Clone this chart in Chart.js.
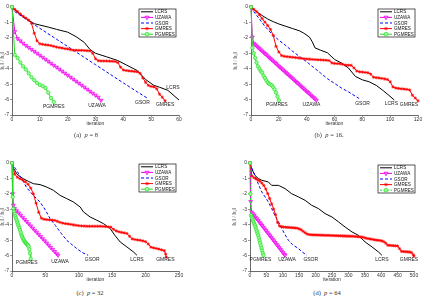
<!DOCTYPE html>
<html><head><meta charset="utf-8">
<script src="https://cdn.jsdelivr.net/npm/chart.js@4.4.0/dist/chart.umd.min.js"></script>
<style>
html,body{margin:0;padding:0;background:#fff;width:423px;height:296px;overflow:hidden;position:relative}
canvas{position:absolute}
.cap{position:absolute;font:6.5px "Liberation Serif","DejaVu Serif",serif;color:#333;white-space:nowrap;transform:translateX(-50%);line-height:7px}
</style></head><body>
<canvas id="ca" width="212" height="132" style="left:0;top:0"></canvas>
<canvas id="cb" width="211" height="132" style="left:212px;top:0"></canvas>
<canvas id="cc" width="212" height="143" style="left:0;top:145px"></canvas>
<canvas id="cd" width="211" height="143" style="left:212px;top:145px"></canvas>
<div class="cap" style="left:86px;top:131px">(a)&nbsp; <i>p</i> = 8</div>
<div class="cap" style="left:329px;top:131px">(b)&nbsp; <i>p</i> = 16.</div>
<div class="cap" style="left:90px;top:289px">(c)&nbsp; <i>p</i> = 32</div>
<div class="cap" style="left:327px;top:289px">(d)&nbsp; <i>p</i> = 64</div>
<script>
const NAMES = ['LCRS','UZAWA','GSOR','GMRES','PGMRES'];
const yTicks = [0,-1,-2,-3,-4,-5,-6,-7];

// ---- (a) p = 8 ----
const a_xticks = [0,10,20,30,40,50,60];
const a_lcrs_it = [0,2,4,6,8,10,13,16,20,23,26,28,30,34,38,41,45,48,51,53,56,60];
const a_lcrs = [0,-0.35,-0.63,-0.87,-1.08,-1.17,-1.3,-1.45,-1.63,-1.92,-2.3,-2.75,-3.0,-3.23,-3.47,-3.75,-4.12,-4.7,-5.08,-5.2,-5.4,-6.03];
const a_uzawa_it = [0,1,2,3,4,5,6,7,8,9,10,11,12,13,14,15,16,17,18,19,20,21,22,23,24,25,26,27,28,29,30,31,32];
const a_uzawa = [0,-1.6,-2.05,-2.2,-2.35,-2.5,-2.62,-2.75,-2.88,-3.0,-3.13,-3.26,-3.39,-3.52,-3.65,-3.78,-3.9,-4.03,-4.16,-4.29,-4.42,-4.55,-4.68,-4.81,-4.94,-5.07,-5.2,-5.33,-5.46,-5.59,-5.72,-5.85,-6.05];
const a_gsor_it = [0,1,5,10,15,20,25,30,35,40,45,49];
const a_gsor = [0,-0.3,-0.78,-1.38,-1.97,-2.56,-3.15,-3.74,-4.33,-4.92,-5.5,-5.95];
const a_gmres_it = [0,1,2,3,4,5,6,7,8,9,10,11,12,13,14,15,16,17,18,19,20,21,22,23,24,25,26,27,28,29,30,31,32,33,34,35,36,37,38,39,40,41,42,43,44,45,46,47,48,49,50,51,52,53,54,55];
const a_gmres = [0,-0.15,-0.3,-0.45,-0.6,-0.72,-0.85,-1.05,-1.7,-2.2,-2.38,-2.42,-2.45,-2.47,-2.5,-2.55,-2.6,-2.63,-2.66,-2.7,-2.72,-2.76,-2.8,-2.8,-2.81,-2.81,-2.82,-2.83,-2.85,-3.0,-3.35,-3.48,-3.5,-3.5,-3.5,-3.51,-3.52,-3.53,-3.6,-3.9,-4.08,-4.12,-4.14,-4.16,-4.18,-4.2,-4.3,-4.6,-4.88,-5.08,-5.15,-5.18,-5.3,-5.65,-5.85,-6.08];
const a_pgmres_it = [0,1,2,3,4,5,6,7,8,9,10,11,12,13,14,15];
const a_pgmres = [0,-3.1,-3.3,-3.6,-3.85,-4.05,-4.3,-4.55,-4.75,-4.92,-5.05,-5.12,-5.25,-5.55,-5.9,-6.15];

// ---- (b) p = 16 ----
const b_xticks = [0,20,40,60,80,100,120];
const b_lcrs_it = [0,4,8,12,16,20,25,30,35,38,42,44,46,50,55,60,65,70,75,80,85,90,95,99,103];
const b_lcrs = [0,-0.3,-0.55,-0.78,-0.95,-1.1,-1.25,-1.4,-1.55,-1.7,-1.95,-2.25,-2.65,-2.8,-2.97,-3.4,-3.63,-3.95,-4.5,-4.72,-4.85,-5.08,-5.42,-5.72,-6.03];
const b_uzawa_it = [0,1,2,3,4,5,6,7,8,9,10,11,12,13,14,15,16,17,18,19,20,21,22,23,24,25,26,27,28,29,30,31,32,33,34,35,36,37,38,39,40,41,42,43,44,45,46,47];
const b_uzawa = [0,-1.95,-2.35,-2.45,-2.53,-2.61,-2.69,-2.78,-2.86,-2.94,-3.02,-3.1,-3.18,-3.27,-3.35,-3.43,-3.51,-3.59,-3.67,-3.76,-3.84,-3.92,-4.0,-4.08,-4.16,-4.25,-4.33,-4.41,-4.49,-4.57,-4.65,-4.74,-4.82,-4.9,-4.98,-5.06,-5.14,-5.23,-5.31,-5.39,-5.47,-5.55,-5.63,-5.72,-5.8,-5.88,-5.96,-6.05];
const b_gsor_it = [0,2,5,10,15,20,25,30,35,40,45,50,55,60,65,70,75,78];
const b_gsor = [0,-0.3,-0.65,-1.25,-1.75,-2.15,-2.5,-2.88,-3.22,-3.55,-3.92,-4.28,-4.65,-4.95,-5.25,-5.5,-5.78,-5.95];
const b_gmres_it = [0,2,4,6,8,10,12,14,16,18,20,22,24,26,28,30,32,34,36,38,40,42,44,46,48,50,52,54,56,58,60,62,64,66,68,70,72,74,76,78,80,82,84,86,88,90,92,94,96,98,100,102,104,106,108,110,112,114,116,118,120];
const b_gmres = [0,-0.15,-0.3,-0.5,-0.75,-0.98,-1.2,-1.45,-1.85,-2.55,-2.92,-3.15,-3.2,-3.22,-3.24,-3.26,-3.28,-3.3,-3.33,-3.35,-3.37,-3.38,-3.4,-3.41,-3.42,-3.43,-3.44,-3.45,-3.47,-3.62,-3.66,-3.67,-3.68,-3.72,-3.77,-3.77,-3.78,-3.95,-4.15,-4.2,-4.22,-4.24,-4.26,-4.35,-4.55,-4.58,-4.6,-4.63,-4.66,-4.7,-4.85,-5.18,-5.25,-5.28,-5.3,-5.32,-5.34,-5.38,-5.72,-5.9,-6.08];
const b_pgmres_it = [0,1,2,3,4,5,6,7,8,9,10,11,12,13,14,15,16,17,18,19,20];
const b_pgmres = [0,-2.65,-3.0,-3.3,-3.6,-3.85,-4.0,-4.15,-4.25,-4.45,-4.6,-4.75,-4.9,-4.98,-5.02,-5.08,-5.2,-5.35,-5.55,-5.8,-6.05];

// ---- (c) p = 32 ----
const c_xticks = [0,50,100,150,200,250];
const c_lcrs_it = [0,2,7,12,17,25,32,42,52,62,72,82,92,102,107,117,127,137,147,154,162,172,182,187];
const c_lcrs = [0,-0.32,-0.69,-0.88,-1.02,-1.2,-1.34,-1.4,-1.56,-1.77,-2.1,-2.31,-2.53,-2.85,-3.17,-3.5,-3.71,-3.93,-4.25,-4.69,-5.12,-5.44,-5.77,-5.98];
const c_uzawa_it = [0,1,2,4,7,10,13,16,19,22,25,28,31,34,37,40,43,46,49,52,55,58,61,64,67,69];
const c_uzawa = [0,-2.0,-2.74,-2.96,-3.1,-3.24,-3.38,-3.52,-3.66,-3.8,-3.94,-4.08,-4.22,-4.36,-4.49,-4.63,-4.77,-4.91,-5.05,-5.19,-5.33,-5.47,-5.61,-5.75,-5.89,-5.98];
const c_gsor_it = [0,5,10,15,22,32,42,50,57,65,72,82,90,97,105,114];
const c_gsor = [0,-0.35,-0.7,-1.05,-1.6,-2.1,-2.53,-3.05,-3.6,-4.05,-4.47,-5.01,-5.3,-5.55,-5.8,-5.98];
const c_gmres_it = [0,4,8,12,16,20,24,28,32,36,40,44,48,52,56,60,64,68,72,76,80,84,88,92,96,100,104,108,112,116,120,124,128,132,136,140,144,148,152,156,160,164,168,172,176,180,184,188,192,196,200,204,208,212,216,220,224,228,230,231];
const c_gmres = [0,-0.72,-0.92,-1.02,-1.1,-1.22,-1.38,-1.62,-2.0,-2.6,-3.2,-3.58,-3.65,-3.67,-3.69,-3.7,-3.72,-3.78,-3.85,-3.9,-3.93,-3.95,-3.98,-4.01,-4.04,-4.06,-4.08,-4.09,-4.1,-4.1,-4.1,-4.1,-4.1,-4.1,-4.11,-4.12,-4.14,-4.16,-4.3,-4.4,-4.46,-4.5,-4.53,-4.57,-4.75,-4.92,-4.96,-4.99,-5.01,-5.05,-5.1,-5.25,-5.46,-5.5,-5.54,-5.58,-5.63,-5.68,-5.9,-6.1];
const c_pgmres_it = [0,1,2,3,4,5,6,7,8,9,10,11,12,13,14,15,16,17,18,19,20,21,22,23,24,25,26,27,28];
const c_pgmres = [0,-2.2,-2.96,-3.15,-3.3,-3.45,-3.58,-3.72,-3.85,-3.98,-4.1,-4.22,-4.35,-4.5,-4.65,-4.75,-4.85,-4.95,-5.02,-5.1,-5.15,-5.2,-5.25,-5.3,-5.33,-5.42,-5.6,-5.85,-6.2];

// ---- (d) p = 64 ----
const d_xticks = [0,50,100,150,200,250,300,350,400,450,500];
const d_lcrs_it = [0,5,15,25,36,56,66,87,107,127,148,168,188,209,229,250,270,290,311,331,351,372,392,402];
const d_lcrs = [0,-0.37,-0.8,-1.0,-1.12,-1.23,-1.45,-1.45,-1.66,-1.99,-2.2,-2.42,-2.74,-2.96,-3.28,-3.5,-3.82,-4.15,-4.47,-4.69,-5.12,-5.44,-5.77,-5.98];
const d_uzawa_it = [0,2,5,9,13,17,21,25,29,33,37,41,45,49,53,57,61,65,69,73,77,81,85,89,93,97,101,105,107];
const d_uzawa = [0,-2.5,-3.18,-3.29,-3.4,-3.51,-3.62,-3.73,-3.84,-3.95,-4.06,-4.17,-4.28,-4.39,-4.5,-4.61,-4.72,-4.83,-4.94,-5.05,-5.16,-5.27,-5.38,-5.49,-5.6,-5.71,-5.82,-5.93,-5.98];
const d_gsor_it = [0,5,15,25,36,46,56,66,76,87,97,107,117,130,148,160,173];
const d_gsor = [0,-0.3,-0.8,-1.35,-1.88,-2.2,-2.53,-2.95,-3.39,-3.82,-4.25,-4.65,-5.01,-5.3,-5.55,-5.78,-5.98];
const d_gmres_it = [0,6,12,18,24,30,36,42,48,54,60,66,72,78,84,90,96,102,108,114,120,126,132,138,144,150,156,162,168,174,180,186,192,198,204,210,216,222,228,234,240,246,252,258,264,270,276,282,288,294,300,306,312,318,324,330,336,342,348,354,360,366,372,378,384,390,396,402,408,414,420,426,432,438,444,450,456,462,468,474,480,486,492,498,500];
const d_gmres = [0,-0.85,-0.95,-1.03,-1.1,-1.18,-1.3,-1.45,-1.68,-1.98,-2.3,-2.65,-2.98,-3.35,-3.85,-4.08,-4.12,-4.15,-4.16,-4.17,-4.18,-4.19,-4.2,-4.21,-4.23,-4.27,-4.33,-4.43,-4.52,-4.6,-4.64,-4.65,-4.66,-4.66,-4.67,-4.67,-4.68,-4.68,-4.69,-4.69,-4.69,-4.7,-4.7,-4.71,-4.71,-4.72,-4.72,-4.73,-4.73,-4.74,-4.74,-4.75,-4.75,-4.76,-4.77,-4.78,-4.79,-4.8,-4.83,-4.88,-4.9,-4.92,-4.95,-4.97,-4.99,-5.01,-5.02,-5.05,-5.1,-5.2,-5.33,-5.34,-5.35,-5.36,-5.37,-5.38,-5.55,-5.73,-5.74,-5.75,-5.76,-5.77,-5.8,-5.95,-6.03];
const d_pgmres_it = [0,1,3,5,7,9,11,13,15,17,19,21,23,25,27,29,31,33,35,37,39,41];
const d_pgmres = [0,-2.0,-3.39,-3.5,-3.6,-3.72,-3.83,-3.94,-4.04,-4.17,-4.3,-4.43,-4.56,-4.69,-4.85,-5.02,-5.18,-5.35,-5.52,-5.68,-5.85,-5.98];

const FONT = '"Liberation Sans", Arial, sans-serif';
const STYLES = [
  {borderColor:'#000000', backgroundColor:'#000000', borderWidth:1, pointRadius:0},
  {borderColor:'#ee00ee', backgroundColor:'#ff70ff', borderWidth:1, pointStyle:'triangle', pointRotation:180, pointRadius:2.2, pointBorderWidth:0.7},
  {borderColor:'#0000ff', backgroundColor:'#0000ff', borderWidth:1, borderDash:[3,2], pointRadius:0},
  {borderColor:'#ff0000', backgroundColor:'#ff0000', borderWidth:1, pointStyle:'star', pointRadius:1.6, pointBorderWidth:0.7},
  {borderColor:'#22dd22', backgroundColor:'#a0ffa0', borderWidth:1, pointStyle:'circle', pointRadius:1.7, pointBorderWidth:0.7}
];

function drawMarker(ctx, st, x, y) {
  if (!st.pointRadius) return;
  ctx.save();
  ctx.setLineDash([]);
  ctx.strokeStyle = st.borderColor; ctx.fillStyle = st.backgroundColor;
  ctx.lineWidth = st.pointBorderWidth || 1;
  Chart.helpers.drawPoint(ctx, {pointStyle: st.pointStyle, rotation: st.pointRotation || 0, radius: st.pointRadius + 0.2, borderWidth: st.pointBorderWidth || 1}, x, y);
  ctx.restore();
}

const figExtras = {
  id: 'figExtras',
  afterDatasetsDraw(chart, args, opts) {
    const ctx = chart.ctx, xs = chart.scales.x, ys = chart.scales.y;
    ctx.save();
    ctx.font = '5px ' + FONT; ctx.fillStyle = '#222';
    ctx.textAlign = 'center'; ctx.textBaseline = 'middle';
    chart.data.datasets.forEach((ds, i) => {
      const last = ds.data[ds.data.length - 1];
      const off = opts.labelOffsets[i];
      ctx.fillText(ds.label, xs.getPixelForValue(last.x) + off[0], ys.getPixelForValue(last.y) + off[1]);
    });
    const L = opts.legendBox;
    ctx.fillStyle = '#fff'; ctx.fillRect(L.x, L.y, L.w, L.h);
    ctx.strokeStyle = '#111'; ctx.lineWidth = 0.7; ctx.strokeRect(L.x, L.y, L.w, L.h);
    const rowH = L.h / 5;
    chart.data.datasets.forEach((ds, i) => {
      const st = STYLES[i];
      const cy = L.y + rowH * (i + 0.5);
      ctx.save();
      ctx.strokeStyle = ds.borderColor; ctx.lineWidth = 1;
      ctx.setLineDash(ds.borderDash || []);
      ctx.beginPath(); ctx.moveTo(L.x + 2, cy); ctx.lineTo(L.x + 14, cy); ctx.stroke();
      ctx.restore();
      drawMarker(ctx, st, L.x + 8, cy);
      ctx.fillStyle = '#111'; ctx.textAlign = 'left'; ctx.textBaseline = 'middle';
      ctx.font = '4.6px ' + FONT;
      ctx.fillText(ds.label, L.x + 16, cy + 0.3);
    });
    ctx.restore();
  }
};

function buildChart(id, p) {
  const datasets = p.series.map((s, i) => Object.assign({
    label: NAMES[i],
    data: s[0].map((x, k) => ({x: x, y: s[1][k]})),
    order: 4 - i, tension: 0, fill: false, clip: 6
  }, STYLES[i], (p.dashPG && i === 4) ? {borderDash:[2,1.5]} : {}));
  const axisCommon = {
    type: 'linear',
    grid: {display: true, drawOnChartArea: false, drawTicks: true, tickLength: 2, color: '#555', lineWidth: 0.6},
    border: {display: true, color: '#444', width: 0.8},
    ticks: {font: {size: 5, family: FONT}, color: '#333', padding: 1, maxRotation: 0, autoSkip: false}
  };
  return new Chart(document.getElementById(id), {
    type: 'line',
    data: {datasets},
    options: {
      responsive: false, animation: false, devicePixelRatio: 1,
      layout: {padding: p.pad},
      plugins: {legend: {display: false}, tooltip: {enabled: false},
        figExtras: {legendBox: p.legendBox, labelOffsets: p.labelOffsets}},
      scales: {
        x: Object.assign({}, axisCommon, {
          min: 0, max: p.xticks[p.xticks.length - 1],
          afterBuildTicks: s => { s.ticks = p.xticks.map(v => ({value: v})); },
          afterFit: s => { s.height = 17; },
          ticks: Object.assign({}, axisCommon.ticks, {padding: 0}),
          title: {display: true, text: 'iteration', font: {size: 5, family: FONT}, color: '#333', padding: {top: 0, bottom: 5}}
        }),
        y: Object.assign({}, axisCommon, {
          min: -7, max: 0,
          afterBuildTicks: s => { s.ticks = yTicks.map(v => ({value: v})); },
          afterFit: s => { s.width = p.yw; },
          title: {display: true, text: '‖rₖ‖ / ‖r₀‖', font: {size: 4.5, family: FONT}, color: '#555', padding: 0}
        })
      }
    },
    plugins: [figExtras]
  });
}

buildChart('ca', {
  xticks: a_xticks, yw: 12, pad: {left: 0, right: 33, top: 7, bottom: 0},
  series: [[a_lcrs_it, a_lcrs], [a_uzawa_it, a_uzawa], [a_gsor_it, a_gsor], [a_gmres_it, a_gmres], [a_pgmres_it, a_pgmres]],
  legendBox: {x: 139, y: 9, w: 37, h: 28},
  labelOffsets: [[-6, -12], [-4, 5], [-6, 4], [0, 4], [0, 5]]
});
buildChart('cb', {
  xticks: b_xticks, yw: 18, pad: {left: 21, right: 5, top: 7, bottom: 0},
  series: [[b_lcrs_it, b_lcrs], [b_uzawa_it, b_uzawa], [b_gsor_it, b_gsor], [b_gmres_it, b_gmres], [b_pgmres_it, b_pgmres]],
  legendBox: {x: 166, y: 9, w: 37, h: 28},
  labelOffsets: [[-3, 4], [-5, 4], [3, 5], [-9, 4], [-2, 4]]
});
buildChart('cc', {
  xticks: c_xticks, yw: 12, pad: {left: 0, right: 33, top: 18, bottom: 0},
  series: [[c_lcrs_it, c_lcrs], [c_uzawa_it, c_uzawa], [c_gsor_it, c_gsor], [c_gmres_it, c_gmres], [c_pgmres_it, c_pgmres]],
  legendBox: {x: 139, y: 19, w: 37, h: 28},
  labelOffsets: [[0, 4], [2, 6], [4, 4], [-1, 3], [-4, 4]]
});
buildChart('cd', {
  xticks: d_xticks, yw: 18, pad: {left: 20, right: 9, top: 18, bottom: 0}, dashPG: true,
  series: [[d_lcrs_it, d_lcrs], [d_uzawa_it, d_uzawa], [d_gsor_it, d_gsor], [d_gmres_it, d_gmres], [d_pgmres_it, d_pgmres]],
  legendBox: {x: 166, y: 20, w: 37, h: 28},
  labelOffsets: [[0, 4], [2, 4], [4, 4], [-5, 4], [-3, 4]]
});
</script>
</body></html>
